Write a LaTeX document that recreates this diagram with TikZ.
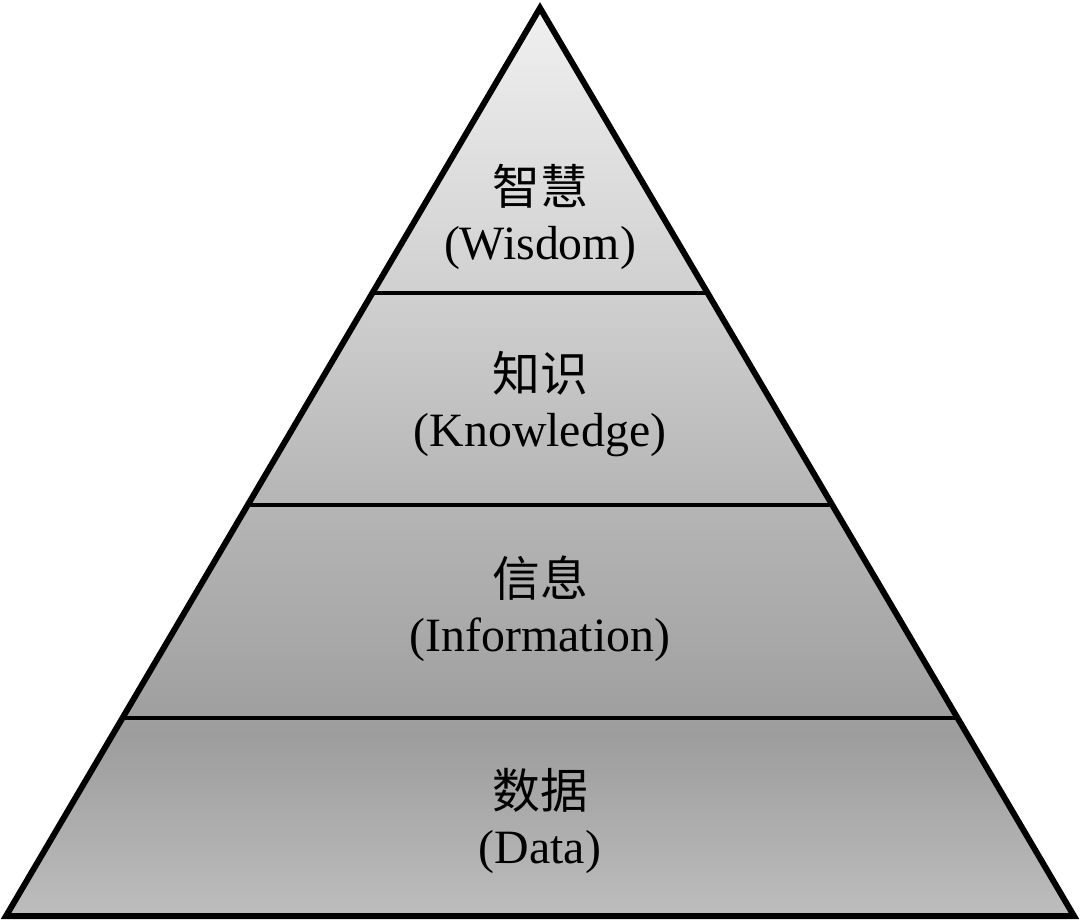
\documentclass[tikz,border=0pt]{standalone}
\usepackage{fontspec}
\setmainfont{Liberation Serif}
\newfontfamily\cjk{Noto Sans CJK SC}
\usepackage{tikz}
\usepackage{xcolor}
\usetikzlibrary{positioning,calc}
\definecolor{ink}{HTML}{000000}
\definecolor{greybase}{HTML}{BDBDBD}
\definecolor{greydeep}{HTML}{9D9D9D}
\definecolor{greylow}{HTML}{A8A8A8}
\definecolor{greymid}{HTML}{B5B5B5}
\definecolor{greyhigh}{HTML}{D0D0D0}
\definecolor{greytop}{HTML}{F0F0F0}
\pgfdeclareverticalshading{pyramidshade}{100bp}{%
  color(0bp)=(greybase); color(25bp)=(greybase);
  color(35bp)=(greydeep); color(40.2bp)=(greylow);
  color(47.6bp)=(greymid); color(59.3bp)=(greyhigh);
  color(75bp)=(greytop); color(100bp)=(greytop)}
\tikzset{
  outline/.style={draw=ink,line width=1.7pt,line join=miter},
  divider/.style={draw=ink,line width=1pt},
  tiername/.style={align=center,inner sep=0pt,
                   font=\fontsize{13.6}{15.6}\selectfont}
}

\begin{document}
\begin{tikzpicture}[x=0.01cm,y=-0.01cm]
  \useasboundingbox (0,0) rectangle (1080,923);
  \coordinate (apex) at (540,8);
  \coordinate (bl) at (6,916);
  \coordinate (br) at (1074,916);
  % body of the pyramid
  \shade[shading=pyramidshade] (apex) -- (bl) -- (br) -- cycle;
  % tier borders
  \foreach \f/\n in {0.3139/a,0.5474/b,0.7819/c}{
    \coordinate (l\n) at ($(apex)!\f!(bl)$);
    \coordinate (r\n) at ($(apex)!\f!(br)$);
    \draw[divider] (l\n) -- (r\n);
  }
  \draw[outline] (apex) -- (bl) -- (br) -- cycle;
  % labels
  \node[tiername] (wisdom) at (540,217) {{\cjk 智慧}\\(Wisdom)};
  \node[tiername] (knowledge) at (540,404) {{\cjk 知识}\\(Knowledge)};
  \node[tiername] (information) at (540,609) {{\cjk 信息}\\(Information)};
  \node[tiername] (data) at (540,821) {{\cjk 数据}\\(Data)};
\end{tikzpicture}
\end{document}
